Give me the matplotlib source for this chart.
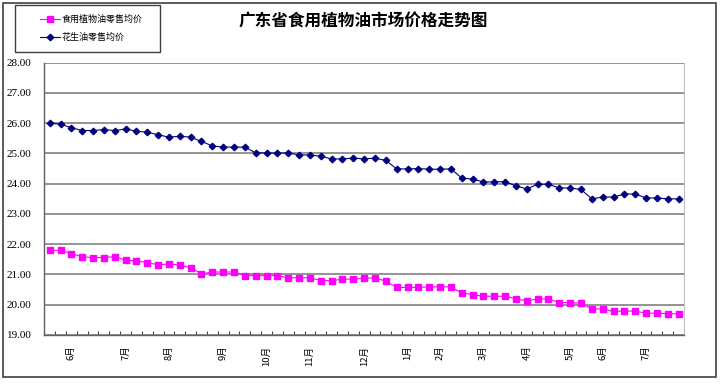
import matplotlib
matplotlib.use("Agg")
import matplotlib.pyplot as plt
from matplotlib.patches import Rectangle
from matplotlib.lines import Line2D
import numpy as np

plt.rcParams['font.family'] = ['Noto Sans CJK SC', 'DejaVu Sans']

# weekly prices, 59 observations
peanut_oil = [26.00, 25.97, 25.85, 25.76, 25.76, 25.79, 25.76, 25.81, 25.74, 25.70,
              25.62, 25.54, 25.57, 25.54, 25.40, 25.25, 25.21, 25.21, 25.21, 25.02,
              25.02, 25.01, 25.02, 24.95, 24.95, 24.91, 24.82, 24.82, 24.85, 24.82,
              24.85, 24.77, 24.49, 24.49, 24.50, 24.48, 24.48, 24.49, 24.19, 24.15,
              24.06, 24.06, 24.07, 23.93, 23.83, 23.98, 23.98, 23.86, 23.86, 23.81,
              23.50, 23.56, 23.56, 23.66, 23.66, 23.53, 23.53, 23.50, 23.50]
veg_oil = [21.80, 21.80, 21.69, 21.58, 21.56, 21.56, 21.59, 21.47, 21.45, 21.39,
           21.32, 21.35, 21.31, 21.22, 21.02, 21.08, 21.08, 21.08, 20.96, 20.96,
           20.96, 20.96, 20.89, 20.89, 20.89, 20.80, 20.80, 20.84, 20.85, 20.87,
           20.89, 20.78, 20.57, 20.57, 20.57, 20.59, 20.59, 20.59, 20.39, 20.33,
           20.28, 20.28, 20.28, 20.19, 20.13, 20.19, 20.19, 20.07, 20.07, 20.05,
           19.86, 19.86, 19.78, 19.79, 19.79, 19.72, 19.72, 19.70, 19.70]

month_pos = [2, 7, 11, 16, 20, 24, 29, 33, 36, 40, 44, 48, 51, 55]
month_labels = ['6月', '7月', '8月', '9月', '10月', '11月', '12月',
                '1月', '2月', '3月', '4月', '5月', '6月', '7月']
y_ticks = [19, 20, 21, 22, 23, 24, 25, 26, 27, 28]
series_names = ['食用植物油零售均价', '花生油零售均价']

fig = plt.figure(figsize=(7.2, 3.85), dpi=100)
ax = fig.add_axes([0.0615, 0.13, 0.8885, 0.707])

x = np.arange(len(veg_oil))
ax.plot(x, veg_oil, color='#FF00FF', lw=0.8, marker='s', ms=4.3,
        mec='#FF00FF', mfc='#FF00FF')
ax.plot(x, peanut_oil, color='#000080', lw=0.8, marker='D', ms=3.3,
        mec='#000080', mfc='#000080')

ax.set_xlim(-0.5, len(x) - 0.5)
ax.set_ylim(19, 28)
ax.set_yticks(y_ticks)
ax.set_yticklabels(['%.2f' % v for v in y_ticks], family='Liberation Serif', fontsize=8)
ax.yaxis.grid(True, color='#808080', lw=1.2)
ax.set_axisbelow(True)
ax.tick_params(axis='y', length=0, pad=9)

ax.set_xticks(np.arange(len(x) + 1) - 0.5)
ax.set_xticklabels([])
ax.tick_params(axis='x', direction='in', length=3, width=0.8, color='#404040')
for p, lab in zip(month_pos, month_labels):
    ax.text(p, 18.65, lab, rotation=90, ha='center', va='top', fontsize=6.8,
            family=['Noto Sans CJK SC', 'DejaVu Sans'])

for s in ['left', 'bottom']:
    ax.spines[s].set_color('#606060')
    ax.spines[s].set_linewidth(1.0)
ax.spines['top'].set_visible(False)
ax.spines['right'].set_color('#c0c0c0')

fig.text(0.505, 0.943, '广东省食用植物油市场价格走势图', ha='center', va='center',
         fontsize=12, fontweight='bold')

# legend box drawn by hand to match the Excel layout
fig.patches.append(Rectangle((0.0208, 0.865), 0.2014, 0.122, transform=fig.transFigure,
                             fill=False, edgecolor='#404040', lw=1.0))
styles = [('#FF00FF', 's', 4.3), ('#000080', 'D', 3.3)]
for (c, m, ms), name, yy in zip(styles, series_names, [0.951, 0.904]):
    fig.add_artist(Line2D([0.0556, 0.0833], [yy, yy], color=c, lw=0.8,
                          transform=fig.transFigure))
    fig.add_artist(Line2D([0.0694], [yy], color=c, marker=m, ms=ms,
                          transform=fig.transFigure))
    fig.text(0.086, yy, name, va='center', ha='left', fontsize=6.5)

fig.patches.append(Rectangle((0.004, 0.02), 0.99, 0.973, transform=fig.transFigure,
                             fill=False, edgecolor='#404040', lw=1.2))

fig.savefig('out.png', dpi=100)
